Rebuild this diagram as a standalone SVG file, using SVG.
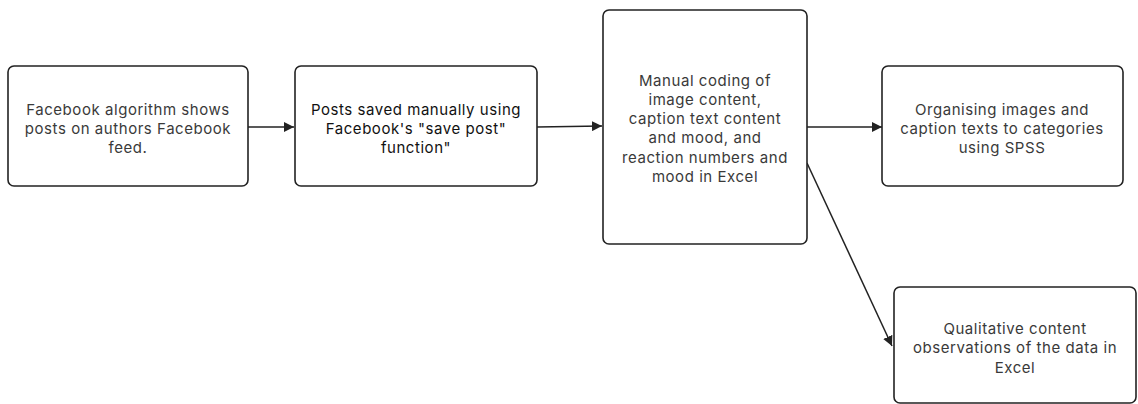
<svg xmlns="http://www.w3.org/2000/svg" width="1138" height="404" viewBox="0 0 1138 404">
<defs>
<style>
.box{fill:#fff;stroke:#222;stroke-width:1.6}
.t{font-family:Inter,"Noto Sans",sans-serif;font-size:15px;letter-spacing:0.55px;fill:#3a3a3a;text-anchor:middle}
.c{stroke:#222;stroke-width:1.5;fill:none}
</style>
<marker id="ah" viewBox="0 0 10 10" refX="10" refY="5" markerWidth="10" markerHeight="10" markerUnits="userSpaceOnUse" orient="auto">
<path d="M0,0 L10,5 L0,10 z" fill="#222"/>
</marker>
</defs>
<rect width="1138" height="404" fill="#fff"/>
<g id="connectors">
<line class="c" x1="248" y1="127" x2="294" y2="127" marker-end="url(#ah)"/>
<line class="c" x1="537" y1="127" x2="602" y2="126" marker-end="url(#ah)"/>
<line class="c" x1="807" y1="127" x2="882" y2="127" marker-end="url(#ah)"/>
<line class="c" x1="807" y1="163" x2="892" y2="346" marker-end="url(#ah)"/>
</g>
<g id="n1">
<rect class="box" x="8" y="66" width="240" height="120" rx="6"/>
<text class="t" x="128" y="115">Facebook algorithm shows</text>
<text class="t" x="128" y="134">posts on authors Facebook</text>
<text class="t" x="128" y="153">feed.</text>
</g>
<g id="n2">
<rect class="box" x="295" y="66" width="242" height="120" rx="6"/>
<text class="t" x="416" y="115" style="fill:#111">Posts saved manually using</text>
<text class="t" x="416" y="134" style="fill:#111">Facebook's "save post"</text>
<text class="t" x="416" y="153" style="fill:#111">function"</text>
</g>
<g id="n3">
<rect class="box" x="603" y="10" width="204" height="234" rx="6"/>
<text class="t" x="705" y="86">Manual coding of</text>
<text class="t" x="705" y="105">image content,</text>
<text class="t" x="705" y="124">caption text content</text>
<text class="t" x="705" y="143">and mood, and</text>
<text class="t" x="705" y="163">reaction numbers and</text>
<text class="t" x="705" y="182">mood in Excel</text>
</g>
<g id="n4">
<rect class="box" x="882" y="66" width="241" height="120" rx="6"/>
<text class="t" x="1002" y="115">Organising images and</text>
<text class="t" x="1002" y="134">caption texts to categories</text>
<text class="t" x="1002" y="153">using SPSS</text>
</g>
<g id="n5">
<rect class="box" x="894" y="287" width="242" height="116" rx="6"/>
<text class="t" x="1015" y="334">Qualitative content</text>
<text class="t" x="1015" y="353">observations of the data in</text>
<text class="t" x="1015" y="373">Excel</text>
</g>
</svg>
